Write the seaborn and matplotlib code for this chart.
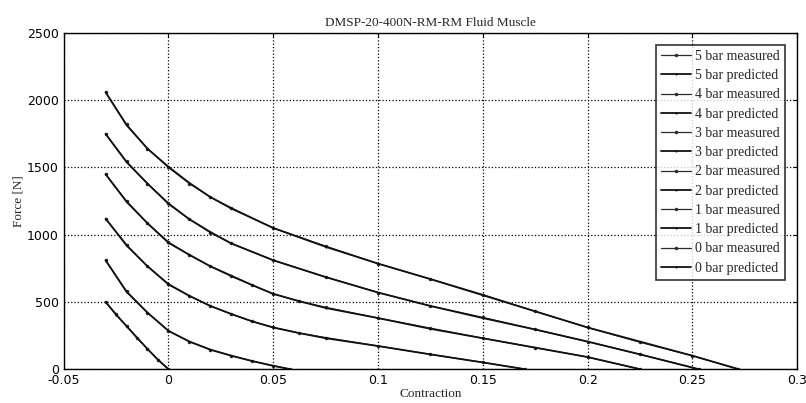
import pandas as pd
import seaborn as sns
import matplotlib
matplotlib.use('Agg')
import matplotlib.pyplot as plt

# ---------------- data ----------------
x5 = [-0.03, -0.02, -0.01, 0, 0.01, 0.02, 0.03, 0.05, 0.075, 0.1, 0.125, 0.15, 0.175, 0.2, 0.225, 0.25, 0.272]
f5_meas = [2060, 1820, 1640, 1500, 1380, 1280, 1200, 1050, 915, 785, 670, 555, 430, 310, 200, 100, 0]
f5_pred = [2060, 1815, 1640, 1505, 1385, 1280, 1195, 1050, 910, 785, 670, 550, 430, 310, 205, 100, 0]

x4 = [-0.03, -0.02, -0.01, 0, 0.01, 0.02, 0.03, 0.05, 0.075, 0.1, 0.125, 0.15, 0.175, 0.2, 0.225, 0.253]
f4_meas = [1750, 1545, 1380, 1235, 1115, 1015, 935, 810, 685, 570, 470, 385, 295, 205, 110, 0]
f4_pred = [1750, 1540, 1380, 1230, 1115, 1020, 935, 810, 685, 570, 470, 380, 295, 205, 110, 0]

x3 = [-0.03, -0.02, -0.01, 0, 0.01, 0.02, 0.03, 0.04, 0.05, 0.0625, 0.075, 0.1, 0.125, 0.15, 0.175, 0.2, 0.225]
f3_meas = [1450, 1250, 1085, 945, 850, 765, 690, 625, 560, 505, 460, 380, 305, 230, 160, 90, 0]
f3_pred = [1450, 1245, 1085, 940, 850, 765, 695, 625, 560, 505, 455, 380, 300, 230, 160, 90, 0]

x2 = [-0.03, -0.02, -0.01, 0, 0.01, 0.02, 0.03, 0.04, 0.05, 0.0625, 0.075, 0.1, 0.125, 0.15, 0.17]
f2_meas = [1120, 925, 765, 635, 545, 470, 410, 355, 310, 268, 235, 172, 110, 50, 0]
f2_pred = [1120, 920, 765, 630, 545, 470, 410, 355, 310, 268, 230, 172, 110, 50, 0]

x1 = [-0.03, -0.02, -0.01, 0, 0.01, 0.02, 0.03, 0.04, 0.05, 0.058]
f1_meas = [810, 580, 420, 285, 205, 145, 100, 60, 25, 0]
f1_pred = [810, 575, 420, 285, 205, 145, 100, 60, 25, 0]

x0 = [-0.03, -0.025, -0.02, -0.015, -0.01, -0.005, 0]
f0_meas = [500, 410, 320, 230, 150, 70, 0]
f0_pred = [500, 405, 320, 235, 150, 70, 0]

pressures = ['5', '4', '3', '2', '1', '0']
xs = [x5, x4, x3, x2, x1, x0]
meas = [f5_meas, f4_meas, f3_meas, f2_meas, f1_meas, f0_meas]
preds = [f5_pred, f4_pred, f3_pred, f2_pred, f1_pred, f0_pred]

xticks = [-0.05, 0, 0.05, 0.1, 0.15, 0.2, 0.25, 0.3]
xticklabels = ['-0.05', '0', '0.05', '0.1', '0.15', '0.2', '0.25', '0.3']
yticks = [0, 500, 1000, 1500, 2000, 2500]

# ---------------- plot ----------------
sns.set_style('white')
plt.rcParams['font.family'] = ['Liberation Serif', 'DejaVu Serif']

fig = plt.figure(figsize=(8.06, 4.03), dpi=100)
ax = fig.add_axes([0.079, 0.084, 0.91, 0.834])

for p, x, m, pr in zip(pressures, xs, meas, preds):
    sns.lineplot(x=x, y=m, ax=ax, color='#2a2a2a', lw=0.9, marker='.', markersize=5,
                 markeredgewidth=0, sort=False, label=p + ' bar measured')
    sns.lineplot(x=x, y=pr, ax=ax, color='#111111', lw=1.3, marker='.', markersize=3,
                 markeredgewidth=0, sort=False, label=p + ' bar predicted')

ax.set_xlim(-0.05, 0.3)
ax.set_ylim(0, 2500)
ax.set_xticks(xticks)
ax.set_xticklabels(xticklabels)
ax.set_yticks(yticks)
ax.tick_params(direction='in', length=3, top=True, right=True, colors='black')
for lab in ax.get_xticklabels() + ax.get_yticklabels():
    lab.set_fontfamily('DejaVu Sans')
    lab.set_fontsize(9)

ax.grid(True, linestyle=':', color='black', lw=0.9)
for s in ax.spines.values():
    s.set_color('black')
    s.set_linewidth(1.0)

ax.set_title('DMSP-20-400N-RM-RM Fluid Muscle', fontsize=9.5, pad=5)
ax.set_xlabel('Contraction', fontsize=9.5, labelpad=1)
ax.set_ylabel('Force [N]', fontsize=9.5, labelpad=2)

leg = ax.legend(loc='upper right', fontsize=10, frameon=True, fancybox=False,
                edgecolor='black', handlelength=2.2, labelspacing=0.45,
                borderpad=0.35, handletextpad=0.3, bbox_to_anchor=(0.993, 0.985))
leg.get_frame().set_linewidth(1.2)

fig.savefig('out.png', dpi=100)
